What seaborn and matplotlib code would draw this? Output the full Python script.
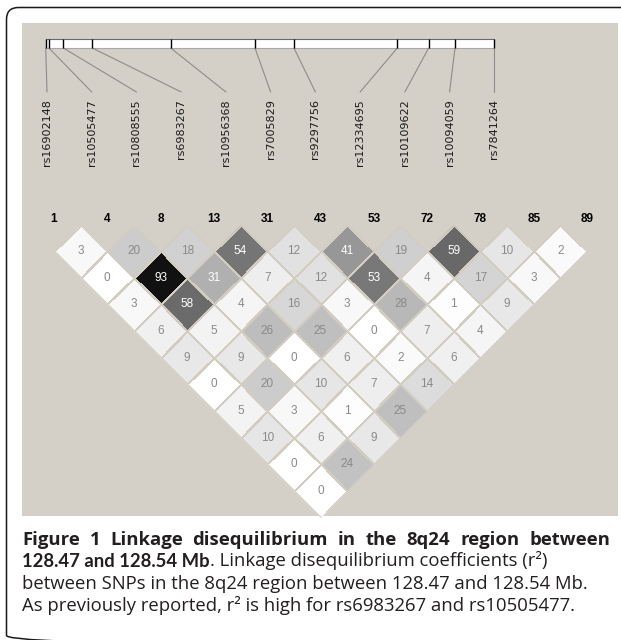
import numpy as np
import pandas as pd
import seaborn as sns
import matplotlib.pyplot as plt
from matplotlib.colors import LinearSegmentedColormap
from matplotlib.patches import Rectangle, FancyBboxPatch
from matplotlib.path import Path
from matplotlib.transforms import Affine2D

# SNPs in the 8q24 region, left to right
snp_ids = ["rs16902148", "rs10505477", "rs10808555", "rs6983267", "rs10956368",
           "rs7005829", "rs9297756", "rs12334695", "rs10109622", "rs10094059",
           "rs7841264"]
marker_nums = [1, 4, 8, 13, 31, 43, 53, 72, 78, 85, 89]
# physical position, kb from the first SNP (128.47 Mb)
snp_pos_kb = [0.0, 0.5, 2.75, 7.27, 19.5, 32.66, 38.74, 54.86, 59.76, 63.87, 70.0]

# r^2 x 100, one list per distance along the triangle: pairs (i, i + k)
r2_d1 = [3, 20, 18, 54, 12, 41, 19, 59, 10, 2]
r2_d2 = [0, 93, 31, 7, 12, 53, 4, 17, 3]
r2_d3 = [3, 58, 4, 16, 3, 28, 1, 9]
r2_d4 = [6, 5, 26, 25, 0, 7, 4]
r2_d5 = [9, 9, 0, 6, 2, 6]
r2_d6 = [0, 20, 10, 7, 14]
r2_d7 = [5, 3, 1, 25]
r2_d8 = [10, 6, 9]
r2_d9 = [0, 24]
r2_d10 = [0]

n = len(snp_ids)
ld = np.full((n, n), np.nan)
for k, vals in enumerate([r2_d1, r2_d2, r2_d3, r2_d4, r2_d5, r2_d6, r2_d7,
                          r2_d8, r2_d9, r2_d10], start=1):
    for i, v in enumerate(vals):
        ld[i, i + k] = v
ld_df = pd.DataFrame(ld, index=snp_ids, columns=snp_ids)

panel_col = "#d4d0c8"

sns.set_style("white")
plt.rcParams["font.family"] = ["Liberation Sans", "DejaVu Sans"]

fig = plt.figure(figsize=(6.21, 6.40), dpi=100)
ax = fig.add_axes([0, 0, 1, 1])

# heatmap of the upper triangle, later turned 45 degrees into diamonds
ld_cmap = LinearSegmentedColormap.from_list("ld", ["#ffffff", "#000000"])
sns.heatmap(ld_df, ax=ax, mask=np.isnan(ld), cmap=ld_cmap, vmin=0, vmax=100,
            annot=True, fmt=".0f", cbar=False, linewidths=0.8,
            linecolor="#d2cdc0",
            annot_kws={"fontsize": 8.5, "family": "Liberation Sans"})

# layout in pixels (axes data = figure pixels, y down)
x_first = 54.0
step = 53.3
y_top = 224.5
tr = Affine2D.from_values(step / 2, step / 2, step / 2, -step / 2,
                          x_first - step / 2, y_top)
mesh = ax.collections[0]
mesh.set_transform(tr + ax.transData)
mesh.set_zorder(3)
# keep only the triangle (masked cells would still get edges)
verts = [(1, 0), (n, 0), (n, n - 1)]
for k in range(n - 1, 0, -1):
    verts += [(k, k), (k, k - 1)]
mesh.set_clip_path(Path(verts, closed=False), tr + ax.transData)
for t in ax.texts:
    t.set_transform(tr + ax.transData)
    t.set_zorder(4)
    t.set_color("white" if float(t.get_text()) >= 30 else "#8a8a8a")

ax.set_xlim(0, 621)
ax.set_ylim(640, 0)
ax.axis("off")

# frame and grey panel
ax.add_patch(FancyBboxPatch((6.5, 7.5), 700, 640,
                            boxstyle="round,pad=0,rounding_size=12",
                            fill=False, ec="#1a1a1a", lw=1.1, zorder=1))
ax.add_patch(Rectangle((22, 23), 595.5, 493, fc=panel_col, ec="none", zorder=1))

# marker numbers above the triangle
for i, m in enumerate(marker_nums):
    ax.text(x_first + i * step, 219, str(m), ha="center", va="center",
            fontsize=8.5, fontweight="bold", color="black", zorder=5)

# physical map bar
bar_l, bar_r, bar_t, bar_b = 45.7, 494.3, 39.0, 48.0
ax.add_patch(Rectangle((bar_l, bar_t), bar_r - bar_l, bar_b - bar_t,
                       fc="white", ec="none", zorder=2))
ax.plot([bar_l, bar_r], [bar_t, bar_t], color="#6a6a6a", lw=0.8, zorder=3)
ax.plot([bar_l, bar_r], [bar_b, bar_b], color="#a8a8a8", lw=0.8, zorder=3)

span = snp_pos_kb[-1] - snp_pos_kb[0]
tick_x = [bar_l + (p - snp_pos_kb[0]) / span * (bar_r - bar_l) for p in snp_pos_kb]
label_x = np.linspace(47.0, bar_r, n)
ax.vlines(tick_x, bar_t, bar_b, color="black", lw=1.0, zorder=4)
for tx, lx, sid in zip(tick_x, label_x, snp_ids):
    ax.plot([tx, lx], [bar_b, 92], color="#8c8c8c", lw=0.8, zorder=3)
    ax.text(lx, 99, sid, rotation=90, ha="center", va="top", fontsize=8,
            family="DejaVu Sans", color="#1a1a1a", zorder=5)

# caption
cap = dict(fontsize=13.3, family="Open Sans", color="#231f20", zorder=5)
renderer = fig.canvas.get_renderer()
words = "Figure 1 Linkage disequilibrium in the 8q24 region between".split()
arts = [ax.text(22, 545, w, va="baseline", fontweight="bold", **cap) for w in words]
widths = [a.get_window_extent(renderer).width for a in arts]
gap = (610 - 22 - sum(widths)) / (len(words) - 1)
x = 22
for a, w in zip(arts, widths):
    a.set_x(x)
    x += w + gap

t1 = ax.text(22, 567, "128.47 and 128.54 Mb", va="baseline", fontsize=13.3,
             family="Lato", fontweight="bold", color="#231f20", zorder=5)
ax.annotate(". Linkage disequilibrium coefficients (r²)", xy=(1, 0),
            xycoords=t1, va="bottom", ha="left", **cap)
ax.text(22, 589, "between SNPs in the 8q24 region between 128.47 and 128.54 Mb.",
        va="baseline", **cap)
ax.text(22, 611, "As previously reported, r² is high for rs6983267 and rs10505477.",
        va="baseline", **cap)

fig.savefig("out.png", dpi=100, facecolor="white")
